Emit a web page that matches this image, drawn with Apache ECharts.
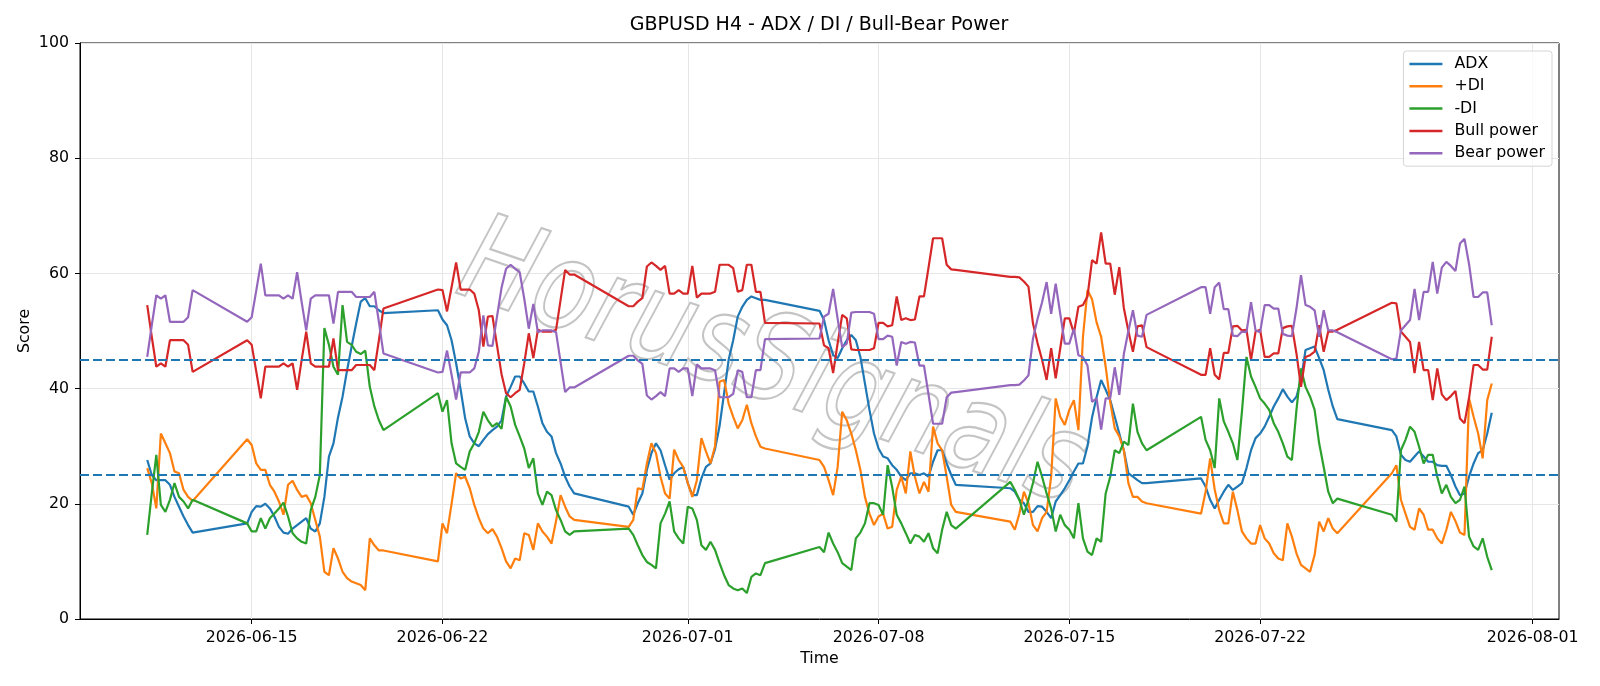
<!DOCTYPE html>
<html>
<head>
<meta charset="utf-8">
<title>GBPUSD H4 - ADX / DI / Bull-Bear Power</title>
<script src="https://cdn.jsdelivr.net/npm/echarts@6/dist/echarts.min.js"></script>
<style>
  html, body { margin: 0; padding: 0; background: #fff; }
  #chart { width: 1600px; height: 686px; }
</style>
</head>
<body>
<div id="chart"></div>
<script>
// trading sessions (UTC), one H4 bar every 4 hours inside each
const sessions = [
  ['2026-06-11T04:00Z', '2026-06-12T20:00Z'],
  ['2026-06-14T20:00Z', '2026-06-19T20:00Z'],
  ['2026-06-21T20:00Z', '2026-06-26T20:00Z'],
  ['2026-06-28T20:00Z', '2026-07-03T20:00Z'],
  ['2026-07-05T20:00Z', '2026-07-10T20:00Z'],
  ['2026-07-12T20:00Z', '2026-07-17T20:00Z'],
  ['2026-07-19T20:00Z', '2026-07-24T20:00Z'],
  ['2026-07-26T20:00Z', '2026-07-30T12:00Z']
];
const tickDates = ['2026-06-15', '2026-06-22', '2026-07-01', '2026-07-08', '2026-07-15', '2026-07-22', '2026-08-01'];
const levels = [45, 25];

const adx = [
  27.6, 25.0, 24.1, 24.1, 24.1, 23.3, 21.2, 19.5, 17.8, 16.3, 15.0,
  16.6, 18.6, 19.6, 19.5, 20.0, 19.2, 17.8, 16.0, 15.0, 14.8, 15.7, 16.3, 16.9, 17.5, 15.7, 15.2, 16.6, 21.2, 28.2, 30.5, 35.0, 38.6, 43.2, 47.3, 51.3, 55.1, 55.7, 54.3, 54.3, 53.6, 53.1,
  53.6, 52.0, 51.0, 48.4, 44.4, 39.8, 34.8, 31.7, 30.5, 30.0, 31.1, 32.1, 32.8, 33.4, 34.5, 38.6, 40.3, 42.1, 42.1, 40.9, 39.5, 39.5, 36.9, 34.0, 32.5, 31.7, 28.8, 27.0, 24.7, 23.0, 21.8,
  19.5, 18.1, 20.1, 21.8, 25.9, 28.8, 30.5, 29.3, 26.7, 24.2, 25.3, 26.0, 26.4, 23.6, 21.5, 21.5, 24.4, 26.4, 27.0, 29.5, 33.5, 39.2, 45.0, 48.4, 52.5, 54.2, 55.4, 56.0, 55.7, 55.4, 55.4,
  53.5, 51.9, 48.4, 45.8, 45.3, 47.0, 48.4, 49.3, 48.4, 45.5, 40.9, 36.3, 32.2, 29.6, 28.2, 27.9, 26.7, 25.9, 24.7, 24.1, 25.3, 25.3, 25.0, 25.3, 24.7, 27.3, 29.3, 29.3, 27.0, 25.0, 23.3,
  22.7, 22.1, 20.7, 20.1, 18.6, 18.6, 19.6, 19.5, 18.6, 17.5, 20.4, 21.5, 22.7, 24.1, 25.6, 27.0, 27.0, 30.0, 35.0, 38.5, 41.5, 39.8, 38.0, 35.1, 32.2, 29.3, 25.3, 24.7, 24.1, 23.6, 23.6,
  24.4, 23.0, 20.7, 19.2, 20.7, 22.1, 23.3, 22.4, 23.0, 23.6, 26.2, 29.3, 31.4, 32.2, 33.4, 35.1, 36.9, 38.3, 39.9, 38.6, 37.6, 38.6, 41.5, 46.7, 47.0, 47.3, 45.3, 43.2, 39.8, 36.9, 34.7,
  32.8, 31.7, 28.5, 27.6, 27.3, 28.2, 29.1, 28.2, 27.3, 27.3, 26.7, 26.6, 26.6, 25.0, 23.0, 21.5, 21.8, 24.7, 27.0, 28.8, 29.3, 32.2, 35.8
];
const plusDI = [
  26.2, 23.6, 19.2, 32.2, 30.5, 28.8, 25.6, 25.3, 22.4, 21.2, 20.5,
  31.2, 30.2, 27.0, 25.9, 25.9, 23.3, 22.1, 20.4, 18.1, 23.3, 24.0, 22.4, 21.2, 21.5, 20.1, 17.2, 14.3, 8.2, 7.6, 12.3, 10.5, 8.2, 7.1, 6.5, 6.2, 5.9, 5.0, 14.0, 12.8, 11.9, 11.9,
  10.0, 16.6, 14.9, 20.0, 25.3, 24.4, 24.7, 22.7, 19.8, 17.5, 15.7, 14.9, 15.6, 14.3, 12.3, 10.0, 8.8, 10.5, 10.2, 14.9, 14.6, 12.0, 16.6, 15.2, 14.3, 13.1, 17.0, 21.5, 19.5, 17.8, 17.2,
  16.0, 17.2, 22.7, 22.5, 27.0, 30.5, 28.8, 24.7, 21.8, 20.9, 29.4, 27.6, 26.4, 23.6, 21.2, 24.1, 31.4, 29.1, 27.0, 30.0, 41.2, 41.5, 37.4, 35.1, 33.1, 34.5, 37.2, 34.0, 31.7, 29.9, 29.6,
  27.6, 26.4, 24.1, 21.5, 26.4, 36.0, 34.5, 32.2, 29.3, 25.9, 21.2, 18.3, 16.3, 17.8, 18.3, 15.7, 16.0, 22.4, 24.7, 21.8, 29.1, 24.7, 21.8, 23.8, 22.1, 33.4, 30.5, 29.3, 24.7, 19.8, 18.6,
  16.9, 15.5, 18.3, 22.1, 20.1, 16.3, 15.2, 17.5, 18.6, 24.7, 38.3, 35.1, 33.7, 36.3, 38.0, 32.8, 49.0, 57.1, 55.5, 51.5, 49.0, 43.8, 37.7, 33.1, 31.7, 29.3, 23.6, 21.2, 21.2, 20.4, 20.1,
  18.3, 22.1, 27.9, 22.5, 18.9, 16.6, 16.6, 22.1, 18.9, 15.2, 14.0, 13.1, 13.1, 16.3, 14.0, 13.1, 11.4, 10.5, 10.2, 16.6, 14.3, 11.4, 9.4, 8.8, 8.2, 11.1, 16.9, 15.2, 17.5, 15.7, 14.9,
  25.3, 26.7, 20.7, 18.3, 16.0, 15.5, 19.2, 18.1, 15.5, 15.5, 14.0, 13.1, 15.5, 18.6, 17.0, 15.0, 14.6, 38.3, 35.1, 32.2, 27.9, 38.0, 40.9
];
const minusDI = [
  14.6, 21.8, 28.5, 19.8, 18.6, 20.7, 23.6, 21.2, 20.4, 19.2, 20.7,
  16.6, 15.2, 15.2, 17.5, 15.7, 17.5, 18.3, 19.2, 20.2, 17.8, 14.9, 14.0, 13.4, 13.1, 18.9, 21.2, 25.0, 50.5, 47.6, 43.8, 42.4, 54.5, 48.1, 47.6, 46.4, 46.0, 46.6, 40.3, 36.9, 34.5, 32.8,
  39.2, 36.0, 38.0, 30.5, 27.0, 26.4, 25.9, 29.1, 30.5, 32.5, 36.0, 34.5, 33.4, 34.0, 33.0, 38.6, 36.9, 33.7, 31.7, 29.6, 26.2, 27.9, 21.8, 19.8, 22.1, 21.5, 18.9, 17.2, 15.2, 14.6, 15.2,
  15.7, 14.6, 12.8, 11.1, 9.9, 9.4, 8.8, 16.6, 18.3, 20.4, 15.2, 14.0, 13.1, 19.5, 19.2, 17.2, 12.8, 12.0, 13.4, 12.0, 9.7, 7.6, 5.9, 5.3, 5.0, 5.3, 4.5, 7.3, 7.9, 7.6, 9.7,
  12.5, 11.6, 15.0, 13.1, 11.6, 9.7, 9.1, 8.5, 14.0, 15.0, 16.6, 20.1, 20.1, 19.8, 18.1, 26.7, 22.9, 18.1, 16.6, 14.9, 13.1, 14.6, 14.3, 13.4, 14.9, 12.3, 11.4, 15.5, 18.6, 16.3, 15.7,
  23.8, 22.4, 20.7, 18.1, 20.7, 23.6, 27.3, 24.7, 21.8, 19.2, 15.2, 18.1, 16.3, 15.5, 14.0, 20.1, 14.0, 11.7, 11.1, 14.0, 13.4, 21.8, 24.7, 29.3, 28.8, 30.8, 30.2, 37.4, 32.5, 30.5, 29.3,
  35.1, 31.1, 29.3, 26.2, 38.3, 34.3, 32.5, 30.5, 27.6, 36.0, 45.5, 42.1, 40.3, 38.3, 37.4, 36.3, 34.0, 32.5, 30.5, 28.2, 27.6, 36.3, 43.5, 40.3, 38.6, 36.3, 30.5, 26.4, 22.1, 20.1, 20.9,
  18.1, 16.9, 29.3, 31.1, 33.4, 32.5, 29.9, 27.0, 28.5, 28.5, 24.7, 21.8, 23.3, 21.2, 20.1, 20.7, 23.0, 14.3, 12.6, 12.0, 14.0, 10.8, 8.5
];
const bullPower = [
  54.5, 49.0, 43.8, 44.4, 43.8, 48.4, 48.4, 48.4, 48.4, 47.6, 42.9,
  48.4, 47.6, 43.0, 38.3, 43.8, 43.8, 43.8, 43.8, 44.4, 43.8, 44.4, 39.8, 45.0, 49.9, 44.4, 43.8, 43.8, 43.8, 43.8, 48.7, 43.2, 43.2, 43.2, 43.2, 44.1, 44.1, 44.1, 44.1, 43.2, 48.4, 53.9,
  57.2, 57.1, 53.4, 57.6, 61.9, 57.2, 57.2, 57.2, 56.5, 53.6, 47.3, 52.5, 52.6, 47.5, 42.5, 39.2, 38.5, 39.2, 39.8, 44.4, 49.6, 45.3, 50.2, 49.9, 49.9, 49.9, 50.2, 55.4, 60.6, 59.8, 59.8,
  54.3, 54.3, 55.1, 55.7, 61.2, 61.9, 61.3, 60.6, 61.3, 56.5, 56.5, 57.1, 56.5, 56.5, 61.3, 55.8, 56.5, 56.5, 56.5, 56.8, 61.5, 61.5, 61.5, 60.9, 56.8, 57.1, 61.5, 61.5, 56.8, 56.8, 51.4,
  51.3, 47.5, 47.0, 42.7, 47.9, 52.8, 52.2, 46.8, 46.7, 46.7, 46.7, 46.7, 47.0, 51.4, 51.4, 50.8, 51.0, 56.0, 51.9, 52.2, 51.9, 52.0, 56.0, 56.0, 61.0, 66.1, 66.1, 66.1, 61.5, 60.7, 60.6,
  59.4, 59.4, 59.3, 58.6, 57.7, 51.3, 47.9, 45.0, 41.5, 47.0, 41.8, 47.0, 52.2, 52.2, 49.6, 54.2, 54.5, 56.0, 62.3, 61.7, 67.1, 61.7, 61.7, 56.3, 61.1, 54.0, 50.0, 46.4, 50.8, 51.0, 47.2,
  42.4, 42.4, 47.0, 42.4, 41.6, 46.2, 46.2, 50.8, 50.9, 50.1, 50.2, 45.0, 49.9, 50.2, 45.5, 45.5, 46.1, 46.1, 50.5, 50.8, 50.9, 46.1, 40.3, 45.5, 45.8, 46.4, 51.0, 46.4, 49.9, 49.9, 50.2,
  54.9, 54.8, 49.9, 49.0, 48.1, 42.7, 48.1, 43.2, 43.2, 38.0, 43.5, 39.0, 38.0, 38.7, 39.6, 34.8, 34.0, 38.4, 44.1, 44.1, 43.3, 43.3, 49.0
];
const bearPower = [
  45.5, 51.0, 56.2, 55.6, 56.2, 51.6, 51.6, 51.6, 51.6, 52.4, 57.1,
  51.6, 52.4, 57.0, 61.7, 56.2, 56.2, 56.2, 56.2, 55.6, 56.2, 55.6, 60.2, 55.0, 50.1, 55.6, 56.2, 56.2, 56.2, 56.2, 51.3, 56.8, 56.8, 56.8, 56.8, 55.9, 55.9, 55.9, 55.9, 56.8, 51.6, 46.1,
  42.8, 42.9, 46.6, 42.4, 38.1, 42.8, 42.8, 42.8, 43.5, 46.4, 52.7, 47.5, 47.4, 52.5, 57.5, 60.8, 61.5, 60.8, 60.2, 55.6, 50.4, 54.7, 49.8, 50.1, 50.1, 50.1, 49.8, 44.6, 39.4, 40.2, 40.2,
  45.7, 45.7, 44.9, 44.3, 38.8, 38.1, 38.7, 39.4, 38.7, 43.5, 43.5, 42.9, 43.5, 43.5, 38.7, 44.2, 43.5, 43.5, 43.5, 43.2, 38.5, 38.5, 38.5, 39.1, 43.2, 42.9, 38.5, 38.5, 43.2, 43.2, 48.6,
  48.7, 52.5, 53.0, 57.3, 52.1, 47.2, 47.8, 53.2, 53.3, 53.3, 53.3, 53.3, 53.0, 48.6, 48.6, 49.2, 49.0, 44.0, 48.1, 47.8, 48.1, 48.0, 44.0, 44.0, 39.0, 33.9, 33.9, 33.9, 38.5, 39.3, 39.4,
  40.6, 40.6, 40.7, 41.4, 42.3, 48.7, 52.1, 55.0, 58.5, 53.0, 58.2, 53.0, 47.8, 47.8, 50.4, 45.8, 45.5, 44.0, 37.7, 38.3, 32.9, 38.3, 38.3, 43.7, 38.9, 46.0, 50.0, 53.6, 49.2, 49.0, 52.8,
  57.6, 57.6, 53.0, 57.6, 58.4, 53.8, 53.8, 49.2, 49.1, 49.9, 49.8, 55.0, 50.1, 49.8, 54.5, 54.5, 53.9, 53.9, 49.5, 49.2, 49.1, 53.9, 59.7, 54.5, 54.2, 53.6, 49.0, 53.6, 50.1, 50.1, 49.8,
  45.1, 45.2, 50.1, 51.0, 51.9, 57.3, 51.9, 56.8, 56.8, 62.0, 56.5, 61.0, 62.0, 61.3, 60.4, 65.2, 66.0, 61.6, 55.9, 55.9, 56.7, 56.7, 51.0
];

// build the H4 time grid
const H4 = 4 * 3600 * 1000;
const times = [];
sessions.forEach(([a, b]) => {
  for (let t = Date.parse(a); t <= Date.parse(b); t += H4) times.push(t);
});
const pair = arr => arr.map((v, i) => [times[i], v]);
const first = times[0];
const last = times[times.length - 1];
const pad5 = (last - first) * 0.05; // matplotlib default margin
const tickVals = tickDates.map(d => Date.parse(d + 'T00:00Z'));

const two = n => ('0' + n).slice(-2);
const fmtDate = v => {
  const d = new Date(v);
  return d.getUTCFullYear() + '-' + two(d.getUTCMonth() + 1) + '-' + two(d.getUTCDate());
};

const FONT = 'DejaVu Sans';
const lineSeries = (name, data, color) => ({
  name,
  type: 'line',
  data: pair(data),
  showSymbol: false,
  symbol: 'none',
  lineStyle: { color, width: 2.2 },
  itemStyle: { color },
  emphasis: { disabled: true }
});

const chart = echarts.init(document.getElementById('chart'));
const series = [
  lineSeries('ADX', adx, '#1f77b4'),
  lineSeries('+DI', plusDI, '#ff7f0e'),
  lineSeries('-DI', minusDI, '#2ca02c'),
  lineSeries('Bull power', bullPower, '#d62728'),
  lineSeries('Bear power', bearPower, '#9467bd')
];
// dashed reference levels
series[0].markLine = {
  silent: true,
  symbol: 'none',
  label: { show: false },
  lineStyle: { color: '#1f77b4', type: [9, 4], width: 2 },
  data: levels.map(v => ({ yAxis: v }))
};

chart.setOption({
  animation: false,
  textStyle: { fontFamily: FONT },
  title: {
    text: 'GBPUSD H4 - ADX / DI / Bull-Bear Power',
    left: 819,
    top: 16,
    padding: 0,
    textAlign: 'center',
    textStyle: { fontSize: 19, fontWeight: 'normal', color: '#000', fontFamily: FONT }
  },
  legend: {
    data: ['ADX', '+DI', '-DI', 'Bull power', 'Bear power'],
    orient: 'vertical',
    right: 48,
    top: 51,
    icon: 'rect',
    itemWidth: 33,
    itemHeight: 2.5,
    itemGap: 6.3,
    padding: [5, 7, 5, 6],
    borderColor: '#d5d5d5',
    borderWidth: 1,
    borderRadius: 3,
    backgroundColor: 'rgba(255,255,255,0.8)',
    textStyle: { fontSize: 15.8, color: '#000', fontFamily: FONT, lineHeight: 16, padding: [0, 0, 0, 7] }
  },
  grid: { left: 80, right: 41, top: 43, bottom: 67, show: true, borderColor: '#000', borderWidth: 1 },
  xAxis: {
    type: 'value',
    min: first - pad5,
    max: last + pad5,
    scale: true,
    name: 'Time',
    nameLocation: 'middle',
    nameGap: 30,
    nameTextStyle: { fontSize: 15.8, color: '#000', fontFamily: FONT },
    axisLine: { show: true, onZero: false, lineStyle: { color: '#000', width: 1 } },
    axisTick: { show: true, customValues: tickVals, length: 5, lineStyle: { color: '#000' } },
    axisLabel: { customValues: tickVals, formatter: fmtDate, fontSize: 15.8, color: '#000', margin: 11, fontFamily: FONT },
    splitLine: { show: true, lineStyle: { color: '#e6e6e6', width: 1 } }
  },
  yAxis: {
    type: 'value',
    min: 0,
    max: 100,
    interval: 20,
    name: 'Score',
    nameLocation: 'middle',
    nameGap: 47,
    nameMoveOverlap: false,
    nameTextStyle: { fontSize: 15.8, color: '#000', fontFamily: FONT },
    axisLine: { show: true, lineStyle: { color: '#000', width: 1 } },
    axisTick: { show: true, length: 5, lineStyle: { color: '#000' } },
    axisLabel: { fontSize: 15.8, color: '#000', margin: 11, fontFamily: FONT },
    splitLine: { show: true, lineStyle: { color: '#e6e6e6', width: 1 } }
  },
  graphic: [{
    type: 'text',
    x: 772,
    y: 368,
    rotation: -19 * Math.PI / 180,
    scaleY: 1.22,
    silent: true,
    z: 1,
    style: {
      text: 'HorusSignals',
      fontSize: 100,
      fontStyle: 'italic',
      fontFamily: FONT,
      fill: 'rgba(255,255,255,0)',
      stroke: '#c4c4c4',
      lineWidth: 1.8,
      align: 'center',
      verticalAlign: 'middle'
    }
  }],
  series
});
</script>
</body>
</html>
